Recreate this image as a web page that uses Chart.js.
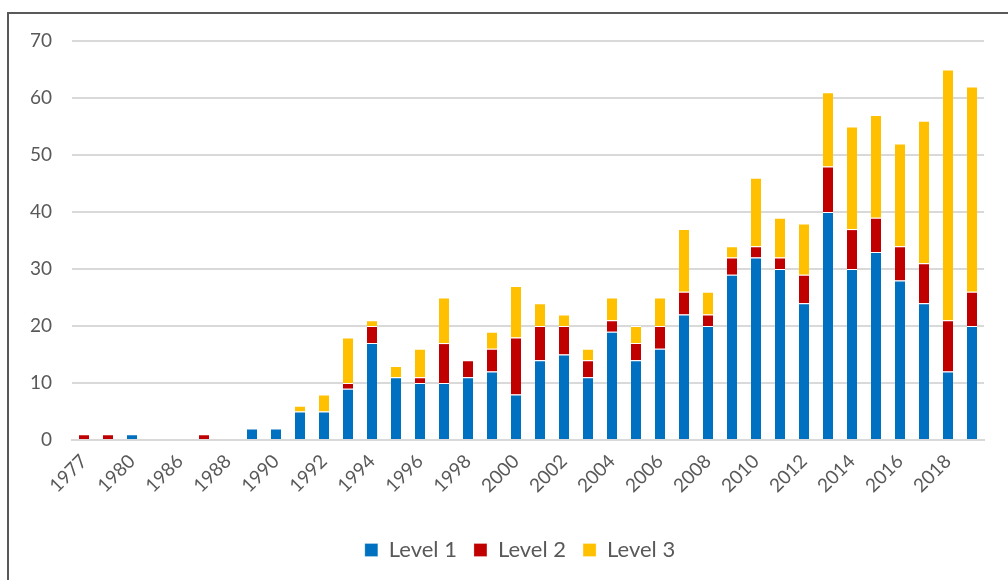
<!DOCTYPE html>
<html>
<head>
<meta charset="utf-8">
<script src="https://cdn.jsdelivr.net/npm/chart.js@4.4.1/dist/chart.umd.min.js"></script>
<style>
  html, body { margin: 0; padding: 0; background: #fff; }
  #frame {
    position: absolute; left: 7px; top: 12px; width: 1010px; height: 580px;
    border-top: 2px solid #595959; border-left: 2px solid #595959;
  }
  #wrap { position: absolute; left: 0; top: 0; width: 1008px; height: 580px; }
</style>
</head>
<body>
<div id="frame"></div>
<div id="wrap"><canvas id="myChart"></canvas></div>
<script>
// years on the category axis (only every other one is labelled)
var years = ['1977', '1979', '1980', '1985', '1986', '1987', '1988', '1989', '1990', '1991',
	'1992', '1993', '1994', '1995', '1996', '1997', '1998', '1999', '2000', '2001',
	'2002', '2003', '2004', '2005', '2006', '2007', '2008', '2009', '2010', '2011',
	'2012', '2013', '2014', '2015', '2016', '2017', '2018', '2019'];

var level1 = [0, 0, 1, 0, 0, 0, 0, 2, 2, 5, 5, 9, 17, 11, 10, 10, 11, 12, 8, 14,
	15, 11, 19, 14, 16, 22, 20, 29, 32, 30, 24, 40, 30, 33, 28, 24, 12, 20];
var level2 = [1, 1, 0, 0, 0, 1, 0, 0, 0, 0, 0, 1, 3, 0, 1, 7, 3, 4, 10, 6,
	5, 3, 2, 3, 4, 4, 2, 3, 2, 2, 5, 8, 7, 6, 6, 7, 9, 6];
var level3 = [0, 0, 0, 0, 0, 0, 0, 0, 0, 1, 3, 8, 1, 2, 5, 8, 0, 3, 9, 4,
	2, 2, 4, 3, 5, 11, 4, 2, 12, 7, 9, 13, 18, 18, 18, 25, 44, 36];

var yTicks = [0, 10, 20, 30, 40, 50, 60, 70];

const textColor = '#595959';
const gridColor = '#d9d9d9';
const fontFamily = 'Lato, "Open Sans", sans-serif';

function mkSet(label, data, color) {
	return {
		label: label,
		data: data,
		backgroundColor: color,
		borderColor: '#ffffff',
		borderWidth: {top: 1, bottom: 0, left: 0, right: 0},
		borderSkipped: false,
		barPercentage: 0.42,
		categoryPercentage: 1.0
	};
}

// legend sits a bit right of centre in the original
const legendShift = {
	id: 'legendShift',
	afterLayout(chart) {
		chart.legend.left += 28;
		chart.legend.right += 28;
	}
};

new Chart(document.getElementById('myChart'), {
	type: 'bar',
	data: {
		labels: years,
		datasets: [
			mkSet('Level 1', level1, '#0070C0'),
			mkSet('Level 2', level2, '#C00000'),
			mkSet('Level 3', level3, '#FFC000')
		]
	},
	plugins: [legendShift],
	options: {
		responsive: true,
		maintainAspectRatio: false,
		animation: false,
		layout: {padding: {top: 41, right: 24, bottom: 9, left: 0}},
		scales: {
			x: {
				stacked: true,
				grid: {display: false},
				border: {color: gridColor, width: 2},
				afterFit: function(axis) { axis.height = 82; },
				ticks: {
					autoSkip: false,
					maxRotation: 45,
					minRotation: 45,
					padding: 2,
					color: textColor,
					font: {family: fontFamily, size: 19},
					callback: function(val, idx) {
						return idx % 2 === 0 ? this.getLabelForValue(val) : '';
					}
				}
			},
			y: {
				stacked: true,
				min: 0,
				max: 70,
				afterBuildTicks: function(axis) {
					axis.ticks = yTicks.map(v => ({value: v}));
				},
				afterFit: function(axis) { axis.width = 72; },
				grid: {color: gridColor, lineWidth: 2, drawTicks: false},
				border: {display: false},
				ticks: {
					padding: 20,
					color: textColor,
					font: {family: fontFamily, size: 19}
				}
			}
		},
		plugins: {
			legend: {
				position: 'bottom',
				labels: {
					boxWidth: 13,
					boxHeight: 13,
					padding: 17,
					color: textColor,
					font: {family: fontFamily, size: 22}
				}
			},
			tooltip: {enabled: false}
		}
	}
});
</script>
</body>
</html>
